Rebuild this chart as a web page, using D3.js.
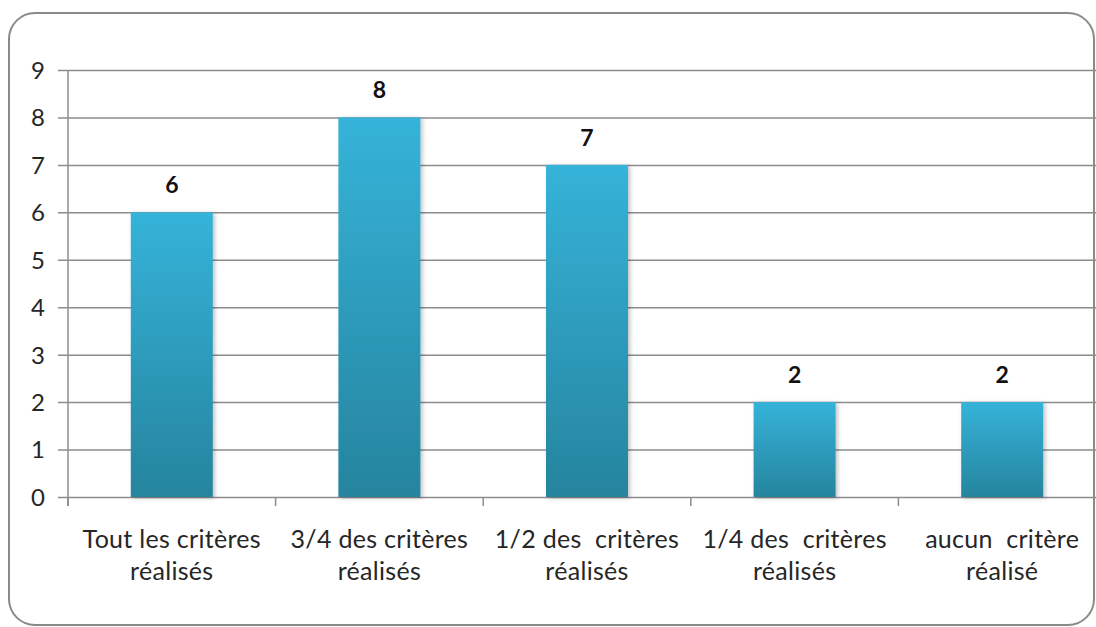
<!DOCTYPE html>
<html>
<head>
<meta charset="utf-8">
<script src="https://cdn.jsdelivr.net/npm/d3@7"></script>
<style>
  html, body { margin: 0; padding: 0; background: #fff; }
  svg { display: block; }
  text { font-family: Lato, "Open Sans", sans-serif; }
</style>
</head>
<body>
<svg id="chart" width="1096" height="627"></svg>
<script>
// Répartition selon le nombre de critères réalisés
const categories = [
  ["Tout les critères", "réalisés"],
  ["3/4 des critères", "réalisés"],
  ["1/2 des  critères", "réalisés"],
  ["1/4 des  critères", "réalisés"],
  ["aucun  critère", "réalisé"]
];
const values = [6, 8, 7, 2, 2];
const yTicks = [0, 1, 2, 3, 4, 5, 6, 7, 8, 9];

const W = 1096, H = 627;
const svg = d3.select("#chart");

// rounded frame around the chart area
svg.append("rect")
  .attr("x", 9).attr("y", 13)
  .attr("width", 1085).attr("height", 612)
  .attr("rx", 26).attr("ry", 26)
  .attr("fill", "#fff")
  .attr("stroke", "#8a8a8a")
  .attr("stroke-width", 2);

const margin = { left: 68, top: 70, bottom: 497 };
const bandW = 207.6;
const x = d3.scaleBand()
  .domain(d3.range(categories.length))
  .range([margin.left, margin.left + bandW * categories.length])
  .paddingInner(0.605).paddingOuter(0.3025);
const y = d3.scaleLinear().domain([0, 9]).range([margin.bottom, margin.top]);

const defs = svg.append("defs");
const grad = defs.append("linearGradient")
  .attr("id", "barGrad").attr("x1", 0).attr("y1", 0).attr("x2", 0).attr("y2", 1);
grad.append("stop").attr("offset", "0%").attr("stop-color", "#35b3d9");
grad.append("stop").attr("offset", "100%").attr("stop-color", "#26849e");

const shadow = defs.append("filter").attr("id", "barShadow")
  .attr("x", "-10%").attr("y", "-10%").attr("width", "130%").attr("height", "130%");
shadow.append("feDropShadow")
  .attr("dx", 2).attr("dy", 1).attr("stdDeviation", 2)
  .attr("flood-color", "#000").attr("flood-opacity", 0.25);

const plot = svg.append("g");

// horizontal gridlines with left tick stubs
const yAxis = d3.axisLeft(y)
  .tickValues(yTicks)
  .tickSize(-(W - margin.left))
  .tickPadding(30)
  .tickFormat(d3.format("d"));
const gy = plot.append("g")
  .attr("transform", `translate(${margin.left},0)`)
  .call(yAxis);
gy.select(".domain").remove();
gy.selectAll(".tick line")
  .attr("x1", -10)
  .attr("stroke", "#8c8c8c").attr("stroke-width", 1.5);
gy.selectAll(".tick text")
  .attr("font-size", 24).attr("fill", "#262626")
  .attr("text-anchor", "middle")
  .attr("dy", "0.35em");

// vertical axis line
plot.append("line")
  .attr("x1", margin.left).attr("x2", margin.left)
  .attr("y1", margin.top).attr("y2", margin.bottom + 9)
  .attr("stroke", "#8c8c8c").attr("stroke-width", 1.5);

// category separators on the baseline
const sepX = d3.range(categories.length + 1).map(i => margin.left + i * x.step());
plot.selectAll("line.sep").data(sepX).join("line")
  .attr("class", "sep")
  .attr("x1", d => d).attr("x2", d => d)
  .attr("y1", margin.bottom).attr("y2", margin.bottom + 9)
  .attr("stroke", "#8c8c8c").attr("stroke-width", 1.5);

// bars
plot.selectAll("rect.bar").data(values).join("rect")
  .attr("class", "bar")
  .attr("x", (d, i) => x(i))
  .attr("width", x.bandwidth())
  .attr("y", d => y(d))
  .attr("height", d => y(0) - y(d))
  .attr("fill", "url(#barGrad)")
  .attr("filter", "url(#barShadow)");

// value labels
plot.selectAll("text.val").data(values).join("text")
  .attr("class", "val")
  .attr("x", (d, i) => x(i) + x.bandwidth() / 2)
  .attr("y", d => y(d) - 19)
  .attr("text-anchor", "middle")
  .attr("font-size", 23).attr("font-weight", "bold").attr("fill", "#111")
  .text(d => d);

// category labels (two lines each)
const cl = plot.selectAll("text.cat").data(categories).join("text")
  .attr("class", "cat")
  .attr("text-anchor", "middle")
  .attr("font-size", 25).attr("fill", "#262626")
  .attr("letter-spacing", 0.3)
  .style("white-space", "pre")
  .attr("transform", (d, i) => `translate(${x(i) + x.bandwidth() / 2},${margin.bottom + 51})`);
cl.selectAll("tspan").data(d => d).join("tspan")
  .attr("x", 0)
  .attr("dy", (d, j) => j === 0 ? 0 : 32)
  .text(d => d);
</script>
</body>
</html>
